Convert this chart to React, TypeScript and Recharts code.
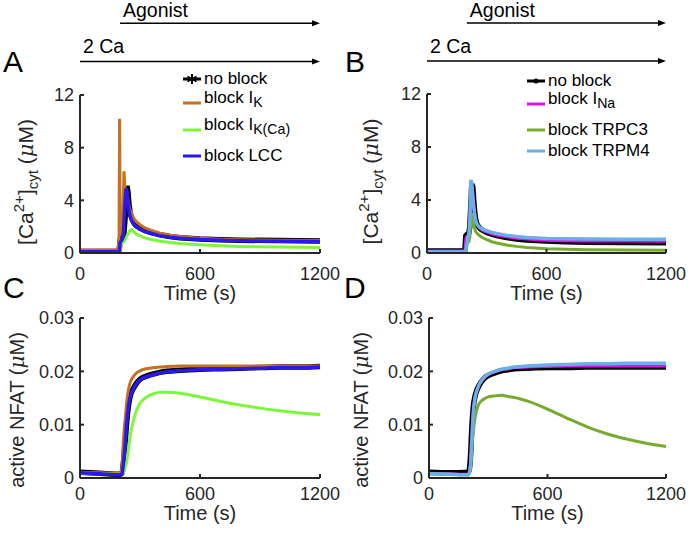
import React from "react";
import { LineChart, Line, XAxis, YAxis, ReferenceLine } from "recharts";

const FONT = '"Liberation Sans", Arial, Helvetica, sans-serif';
const AXIS = "#262626";

// time grids (s)
const caTime = [0, 100, 190, 195, 198, 201, 205, 210, 215, 220, 225, 230, 235, 240, 245, 250, 260, 270, 280, 300, 325, 350, 400, 450, 500, 600, 700, 800, 1000, 1200];
const nfatTime = [0, 100, 200, 210, 217, 225, 233, 242, 250, 267, 283, 300, 333, 367, 400, 433, 500, 600, 700, 800, 900, 1000, 1100, 1200];

// A: [Ca2+]cyt (uM)
const caNoBlockA = [0.12, 0.12, 0.12, 0.12, 0.5, 1.0, 1.05, 1.1, 1.2, 1.6, 2.6, 3.9, 5.1, 4.6, 3.7, 3.1, 2.6, 2.3, 2.1, 1.9, 1.72, 1.58, 1.38, 1.25, 1.16, 1.06, 1.0, 0.97, 0.94, 0.92];
const caBlockIK = [0.22, 0.22, 0.25, 1.0, 10.2, 2.0, 1.4, 1.6, 3.0, 6.2, 4.8, 4.5, 4.4, 4.0, 3.6, 3.3, 2.9, 2.6, 2.4, 2.15, 1.9, 1.75, 1.5, 1.35, 1.25, 1.12, 1.05, 1.0, 0.96, 0.94];
const caBlockIKCa = [0.05, 0.05, 0.05, 0.05, 0.05, 0.2, 0.6, 0.7, 0.8, 0.9, 1.0, 1.15, 1.3, 1.45, 1.6, 1.72, 1.78, 1.6, 1.45, 1.3, 1.15, 1.05, 0.9, 0.8, 0.72, 0.62, 0.55, 0.5, 0.45, 0.42];
const caBlockLCC = [0.1, 0.1, 0.1, 0.1, 0.3, 0.8, 0.9, 1.0, 1.2, 2.3, 3.8, 4.9, 4.7, 3.9, 3.2, 2.8, 2.4, 2.15, 2.0, 1.8, 1.62, 1.5, 1.32, 1.2, 1.12, 1.02, 0.96, 0.93, 0.9, 0.88];

// B: [Ca2+]cyt (uM)
const caNoBlockB = [0.15, 0.15, 0.15, 1.3, 1.35, 1.35, 1.4, 1.5, 2.0, 3.6, 5.2, 5.0, 3.9, 3.0, 2.5, 2.2, 1.95, 1.8, 1.7, 1.55, 1.42, 1.32, 1.17, 1.06, 0.99, 0.9, 0.85, 0.82, 0.8, 0.78];
const caBlockINa = [0.15, 0.15, 0.15, 1.1, 1.2, 1.25, 1.3, 1.4, 1.9, 3.4, 4.8, 4.6, 3.7, 2.9, 2.45, 2.2, 1.95, 1.8, 1.7, 1.57, 1.45, 1.36, 1.22, 1.12, 1.05, 0.97, 0.93, 0.91, 0.9, 0.89];
const caBlockTRPC3 = [0.1, 0.1, 0.1, 0.1, 0.3, 0.7, 0.8, 0.85, 1.2, 2.4, 3.0, 2.6, 2.1, 1.8, 1.6, 1.5, 1.35, 1.25, 1.15, 1.0, 0.85, 0.75, 0.6, 0.5, 0.42, 0.33, 0.28, 0.25, 0.22, 0.2];
const caBlockTRPM4 = [0.1, 0.1, 0.1, 0.1, 0.6, 0.7, 1.2, 1.4, 2.5, 5.5, 5.3, 4.2, 3.4, 2.8, 2.4, 2.2, 2.0, 1.88, 1.8, 1.68, 1.56, 1.47, 1.33, 1.24, 1.17, 1.1, 1.07, 1.05, 1.04, 1.03];

// C: active NFAT (uM)
const nfatNoBlockC = [0.0011, 0.0009, 0.0007, 0.0009, 0.0028, 0.0062, 0.0103, 0.0135, 0.0152, 0.0168, 0.0178, 0.0185, 0.0191, 0.0195, 0.0198, 0.02, 0.0202, 0.0204, 0.0205, 0.0206, 0.0207, 0.0208, 0.0208, 0.0209];
const nfatBlockIK = [0.0011, 0.001, 0.0009, 0.002, 0.0071, 0.0106, 0.014, 0.0165, 0.0178, 0.019, 0.0197, 0.0201, 0.0205, 0.0207, 0.0208, 0.0209, 0.021, 0.021, 0.021, 0.021, 0.021, 0.021, 0.021, 0.021];
const nfatBlockIKCa = [0.0009, 0.0008, 0.0007, 0.0008, 0.001, 0.0018, 0.003, 0.0055, 0.0077, 0.0107, 0.0127, 0.014, 0.0152, 0.0158, 0.0161, 0.0161, 0.0159, 0.0152, 0.0144, 0.0137, 0.0131, 0.0126, 0.0122, 0.0119];
const nfatBlockLCC = [0.001, 0.0008, 0.0006, 0.0008, 0.0027, 0.006, 0.0102, 0.0134, 0.0151, 0.0167, 0.0177, 0.0184, 0.019, 0.0194, 0.0197, 0.0199, 0.0201, 0.0203, 0.0204, 0.0205, 0.0206, 0.0207, 0.0207, 0.0208];

// D: active NFAT (uM)
const nfatNoBlockD = [0.0011, 0.001, 0.0011, 0.004, 0.0095, 0.0136, 0.0153, 0.0164, 0.0171, 0.0181, 0.0188, 0.0192, 0.0197, 0.0201, 0.0203, 0.0205, 0.0206, 0.0207, 0.0207, 0.0208, 0.0208, 0.0208, 0.0208, 0.0208];
const nfatBlockINa = [0.0009, 0.0008, 0.0007, 0.003, 0.0085, 0.013, 0.0152, 0.0164, 0.0172, 0.0183, 0.019, 0.0194, 0.0199, 0.0203, 0.0205, 0.0207, 0.0208, 0.0209, 0.021, 0.021, 0.021, 0.021, 0.021, 0.021];
const nfatBlockTRPC3 = [0.0008, 0.0007, 0.0006, 0.0025, 0.006, 0.009, 0.0112, 0.0128, 0.0137, 0.0145, 0.0149, 0.0152, 0.0154, 0.0155, 0.0153, 0.0151, 0.0144, 0.0129, 0.0112, 0.0096, 0.0083, 0.0073, 0.0065, 0.0059];
const nfatBlockTRPM4 = [0.0008, 0.0007, 0.0006, 0.002, 0.007, 0.0125, 0.015, 0.0163, 0.0172, 0.0183, 0.019, 0.0195, 0.02, 0.0204, 0.0206, 0.0208, 0.021, 0.0212, 0.0213, 0.0214, 0.0214, 0.0215, 0.0215, 0.0215];

const timeTicks = [0, 600, 1200];
const caTicks = [0, 4, 8, 12];
const nfatTicks = [0, 0.01, 0.02, 0.03];

// protocol bars (s)
const calciumStart = 0;
const agonistStart = 200;
const simEnd = 1200;

const NO_BLOCK = { name: "no block", color: "#000000", width: 5.5, marker: true };
const IK = { name: <>block I<sub>K</sub></>, color: "#C6711F", width: 3 };
const IKCA = { name: <>block I<sub>K(Ca)</sub></>, color: "#7CF83A", width: 3 };
const LCC = { name: "block LCC", color: "#2B18F0", width: 3.5 };
const INA = { name: <>block I<sub>Na</sub></>, color: "#E010E8", width: 3 };
const TRPC3 = { name: "block TRPC3", color: "#77AA2E", width: 3 };
const TRPM4 = { name: "block TRPM4", color: "#6CAEE8", width: 3.5 };

type Style = { name: React.ReactNode; color: string; width: number; marker?: boolean };
type Series = Style & { values: number[] };

function toRows(time: number[], series: Series[]) {
  return time.map((t, i) => {
    const row: Record<string, number> = { t };
    series.forEach((s, k) => (row["s" + k] = s.values[i]));
    return row;
  });
}

const arrowShape = (text: string, textDy: number) => (p: any) => {
  const { x1, y1, x2, y2 } = p;
  return (
    <g>
      <line x1={x1} y1={y1} x2={x2 - 5} y2={y2} stroke="#000" strokeWidth={1.6} />
      <path d={`M${x2},${y2} L${x2 - 8},${y2 - 3} L${x2 - 8},${y2 + 3} Z`} fill="#000" />
      <text x={x1 + 3} y={y1 - textDy} fontSize={19.5} fontFamily={FONT} fill="#000">
        {text}
      </text>
    </g>
  );
};

function CaLabel({ x, y }: { x: number; y: number }) {
  return (
    <text x={x} y={y} transform={`rotate(-90 ${x} ${y})`} textAnchor="middle" fontSize={21} fontFamily={FONT} fill={AXIS}>
      [Ca
      <tspan dy={-9} fontSize={15}>2+</tspan>
      <tspan dy={9}>]</tspan>
      <tspan dy={5} fontSize={15}>cyt</tspan>
      <tspan dy={-5}>{" ("}</tspan>
      <tspan fontStyle="italic" fontFamily="'DejaVu Serif', serif">μ</tspan>M)
    </text>
  );
}

function NfatLabel({ x, y }: { x: number; y: number }) {
  return (
    <text x={x} y={y} transform={`rotate(-90 ${x} ${y})`} textAnchor="middle" fontSize={20} fontFamily={FONT} fill={AXIS}>
      active NFAT (<tspan fontStyle="italic" fontFamily="'DejaVu Serif', serif">μ</tspan>M)
    </text>
  );
}

function Swatch({ s, star }: { s: Style; star: boolean }) {
  return (
    <svg width={20} height={20} style={{ display: "block" }}>
      <line x1={1} y1={10} x2={19} y2={10} stroke={s.color} strokeWidth={3} />
      {s.marker && star && (
        <g stroke="#000" strokeWidth={2}>
          <line x1={10} y1={5} x2={10} y2={15} />
          <line x1={5.5} y1={7.5} x2={14.5} y2={12.5} />
          <line x1={5.5} y1={12.5} x2={14.5} y2={7.5} />
        </g>
      )}
      {s.marker && !star && <circle cx={10} cy={10} r={2.5} fill="#000" />}
    </svg>
  );
}

function Legend({ items, left, rowsY, star }: { items: Style[]; left: number; rowsY: number[]; star: boolean }) {
  return (
    <>
      {items.map((s, i) => (
        <div
          key={i}
          style={{ position: "absolute", left, top: rowsY[i] - 10, height: 20, display: "flex", alignItems: "center", fontFamily: FONT, fontSize: 17, color: "#000", whiteSpace: "nowrap" }}
        >
          <Swatch s={s} star={star} />
          <span style={{ marginLeft: 2, position: "relative", top: typeof s.name === "string" ? 0 : -3, lineHeight: "20px" }}>{s.name}</span>
        </div>
      ))}
    </>
  );
}

type PanelCfg = {
  letter: string;
  left: number;
  top: number;
  width: number;
  height: number;
  margin: { top: number; right: number; bottom: number; left: number };
  time: number[];
  series: Series[];
  yDomain: [number, number];
  yTicks: number[];
  curve: "linear" | "monotone";
  kind: "ca" | "nfat";
  labelX: number;
  labelDy: number;
  tickMarginX: number;
  timeLabelDy: number;
  arrows?: { agonistY: number; calciumY: number };
  legend?: { left: number; rowsY: number[]; star: boolean };
  letterPos: { x: number; y: number };
};

function Panel({ cfg }: { cfg: PanelCfg }) {
  const data = toRows(cfg.time, cfg.series);
  return (
    <div style={{ position: "absolute", left: cfg.left, top: cfg.top, width: cfg.width, height: cfg.height }}>
      <LineChart width={cfg.width} height={cfg.height} data={data} margin={cfg.margin} style={{ fontFamily: FONT }}>
        <XAxis
          dataKey="t"
          type="number"
          domain={[0, simEnd]}
          ticks={timeTicks}
          height={50}
          stroke={AXIS}
          strokeWidth={2}
          tickSize={-4}
          tickMargin={cfg.tickMarginX}
          tick={{ fontSize: 18, fill: AXIS }}
          label={{
            content: (p: any) => (
              <text x={p.viewBox.x + p.viewBox.width / 2} y={p.viewBox.y + cfg.timeLabelDy} textAnchor="middle" fontSize={20} fontFamily={FONT} fill={AXIS}>
                Time (s)
              </text>
            ),
          }}
        />
        <YAxis
          type="number"
          domain={cfg.yDomain}
          ticks={cfg.yTicks}
          width={60}
          stroke={AXIS}
          strokeWidth={2}
          tickSize={-4}
          tickMargin={10}
          tick={{ fontSize: 18, fill: AXIS }}
          allowDataOverflow
          label={{
            content: (p: any) => {
              const y = p.viewBox.y + p.viewBox.height / 2 + cfg.labelDy;
              return cfg.kind === "ca" ? <CaLabel x={cfg.labelX} y={y} /> : <NfatLabel x={cfg.labelX} y={y} />;
            },
          }}
        />
        {cfg.series.map((s, k) => (
          <Line
            key={k}
            dataKey={"s" + k}
            type={cfg.curve}
            stroke={s.color}
            strokeWidth={s.width}
            dot={false}
            isAnimationActive={false}
          />
        ))}
        {cfg.arrows && (
          <ReferenceLine
            segment={[{ x: agonistStart, y: cfg.arrows.agonistY }, { x: simEnd, y: cfg.arrows.agonistY }]}
            ifOverflow="visible"
            shape={arrowShape("Agonist", 6)}
          />
        )}
        {cfg.arrows && (
          <ReferenceLine
            segment={[{ x: calciumStart, y: cfg.arrows.calciumY }, { x: simEnd, y: cfg.arrows.calciumY }]}
            ifOverflow="visible"
            shape={arrowShape("2 Ca", 8)}
          />
        )}
      </LineChart>
      {cfg.legend && <Legend items={cfg.series} left={cfg.legend.left} rowsY={cfg.legend.rowsY} star={cfg.legend.star} />}
      <div style={{ position: "absolute", left: cfg.letterPos.x, top: cfg.letterPos.y - 25.5, fontFamily: FONT, fontSize: 30, lineHeight: "30px", color: "#000" }}>
        {cfg.letter}
      </div>
    </div>
  );
}

const panels: PanelCfg[] = [
  {
    letter: "A",
    left: 0,
    top: 0,
    width: 344,
    height: 310,
    margin: { top: 95, right: 24, bottom: 7, left: 20 },
    time: caTime,
    series: [
      { ...NO_BLOCK, values: caNoBlockA },
      { ...IK, values: caBlockIK },
      { ...IKCA, values: caBlockIKCa },
      { ...LCC, values: caBlockLCC },
    ],
    yDomain: [0, 12],
    yTicks: caTicks,
    curve: "linear",
    kind: "ca",
    labelX: 33,
    labelDy: 8,
    tickMarginX: 18,
    timeLabelDy: 47,
    arrows: { agonistY: 17.45, calciumY: 14.55 },
    legend: { left: 182, rowsY: [79, 103, 130, 156], star: true },
    letterPos: { x: 3, y: 72 },
  },
  {
    letter: "B",
    left: 344,
    top: 0,
    width: 344,
    height: 310,
    margin: { top: 94, right: 22, bottom: 7, left: 23 },
    time: caTime,
    series: [
      { ...NO_BLOCK, values: caNoBlockB },
      { ...INA, values: caBlockINa },
      { ...TRPC3, values: caBlockTRPC3 },
      { ...TRPM4, values: caBlockTRPM4 },
    ],
    yDomain: [0, 12],
    yTicks: caTicks,
    curve: "linear",
    kind: "ca",
    labelX: 34,
    labelDy: 8,
    tickMarginX: 18,
    timeLabelDy: 47,
    arrows: { agonistY: 17.36, calciumY: 14.49 },
    legend: { left: 182, rowsY: [81, 104, 130, 151], star: false },
    letterPos: { x: 1, y: 72 },
  },
  {
    letter: "C",
    left: 0,
    top: 300,
    width: 344,
    height: 233,
    margin: { top: 18, right: 24, bottom: 5, left: 20 },
    time: nfatTime,
    series: [
      { ...NO_BLOCK, values: nfatNoBlockC },
      { ...IK, values: nfatBlockIK },
      { ...IKCA, values: nfatBlockIKCa },
      { ...LCC, values: nfatBlockLCC },
    ],
    yDomain: [0, 0.03],
    yTicks: nfatTicks,
    curve: "monotone",
    kind: "nfat",
    labelX: 24,
    labelDy: 12,
    tickMarginX: 13,
    timeLabelDy: 42,
    letterPos: { x: 3, y: -2 },
  },
  {
    letter: "D",
    left: 344,
    top: 300,
    width: 344,
    height: 233,
    margin: { top: 18, right: 22, bottom: 5, left: 25 },
    time: nfatTime,
    series: [
      { ...NO_BLOCK, values: nfatNoBlockD },
      { ...INA, values: nfatBlockINa },
      { ...TRPC3, values: nfatBlockTRPC3 },
      { ...TRPM4, values: nfatBlockTRPM4 },
    ],
    yDomain: [0, 0.03],
    yTicks: nfatTicks,
    curve: "monotone",
    kind: "nfat",
    labelX: 24,
    labelDy: 12,
    tickMarginX: 13,
    timeLabelDy: 42,
    letterPos: { x: 0, y: -2 },
  },
];

export default function App() {
  return (
    <div style={{ position: "absolute", left: 0, top: 0, width: 688, height: 533, background: "#fff", overflow: "hidden" }}>
      {panels.map((cfg) => (
        <Panel key={cfg.letter} cfg={cfg} />
      ))}
    </div>
  );
}
